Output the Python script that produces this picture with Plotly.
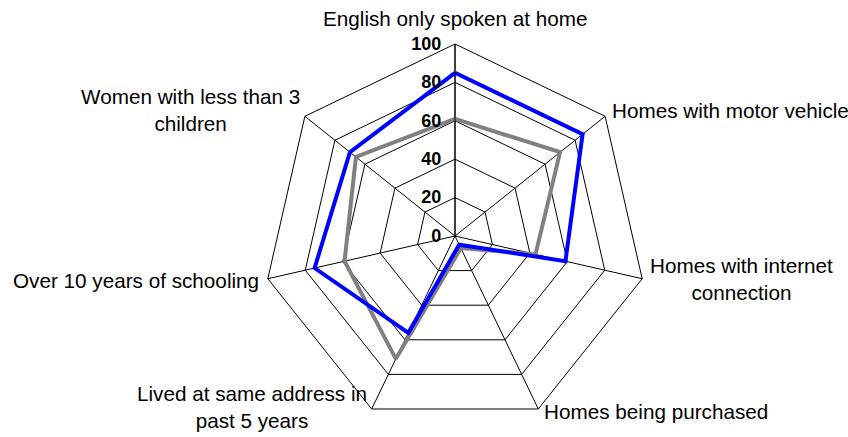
import plotly.graph_objects as go

categories = [
    "English only spoken at home",
    "Homes with motor vehicle",
    "Homes with internet<br>connection",
    "Homes being purchased",
    "Lived at same address in<br>past 5 years",
    "Over 10 years of schooling",
    "Women with less than 3<br>children",
]
series_blue = [85, 85, 59, 5, 56, 75, 70]
series_gray = [61, 70, 43, 7, 71, 59, 66]
radial_ticks = [0, 20, 40, 60, 80, 100]

W, H = 848, 437

# label placement (pixels from top-left): x, y, xanchor
label_pos = [
    (455, 19, "center"),
    (610, 110, "left"),
    (741, 279, "center"),
    (542, 411, "left"),
    (252, 407, "center"),
    (261, 280, "right"),
    (190, 110, "center"),
]

def closed(vals):
    return list(vals) + [vals[0]]

fig = go.Figure()
fig.add_trace(go.Scatterpolar(
    r=closed(series_gray), theta=closed(categories), mode="lines",
    line=dict(color="#808080", width=4), name="Series 2", showlegend=False,
))
fig.add_trace(go.Scatterpolar(
    r=closed(series_blue), theta=closed(categories), mode="lines",
    line=dict(color="#0000FF", width=4), name="Series 1", showlegend=False,
))

annotations = []
for txt, (px, py, xa) in zip(categories, label_pos):
    annotations.append(dict(
        text=txt, x=px / W, y=1 - py / H, xref="paper", yref="paper",
        xanchor=xa, yanchor="middle", showarrow=False, align="center",
        font=dict(size=20.7, color="black"),
    ))

fig.update_layout(
    width=W, height=H,
    margin=dict(l=0, r=0, t=0, b=0),
    paper_bgcolor="white", plot_bgcolor="white",
    font=dict(family="Liberation Sans, Arial, sans-serif", size=18, color="black"),
    annotations=annotations,
    polar=dict(
        domain=dict(x=[263 / W, 647 / W], y=[1 - 428 / H, 1 - 44 / H]),
        bgcolor="white",
        gridshape="linear",
        angularaxis=dict(
            direction="clockwise", rotation=90,
            showline=True, linecolor="black", linewidth=1,
            gridcolor="black", gridwidth=1,
            ticks="", showticklabels=False,
        ),
        radialaxis=dict(
            range=[0, 100], tickvals=radial_ticks, ticktext=[str(v) for v in radial_ticks],
            angle=90, side="counterclockwise", tickangle=90,
            showline=True, linecolor="black", linewidth=1,
            gridcolor="black", gridwidth=1,
            ticks="outside", ticklen=7, tickcolor="rgba(0,0,0,0)",
            tickfont=dict(size=18, color="black", weight="bold"),
        ),
    ),
)

fig.write_html(
    "out.html",
    config={"displayModeBar": False},
    post_script="document.body.style.margin='0';",
)
